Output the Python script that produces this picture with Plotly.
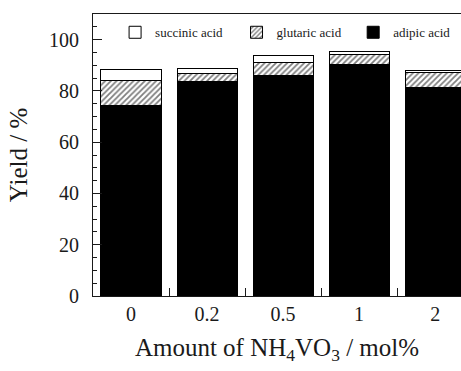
import plotly.graph_objects as go

# Catalyst loading (mol%) and product yields (%)
amounts = ["0", "0.2", "0.5", "1", "2"]
adipic = [74.4, 83.7, 86.0, 90.3, 81.3]
glutaric = [9.7, 2.9, 4.9, 3.8, 5.7]
succinic = [4.2, 2.2, 2.9, 1.2, 1.0]

serif = "Liberation Serif, Times New Roman, serif"
ink = "#1a1a1a"

fig = go.Figure()
fig.add_trace(go.Bar(
    name="adipic acid", x=amounts, y=adipic, legend="legend3",
    marker=dict(color="black", line=dict(color="black", width=1)),
))
fig.add_trace(go.Bar(
    name="glutaric acid", x=amounts, y=glutaric, legend="legend2",
    marker=dict(color="white", line=dict(color="black", width=1),
                pattern=dict(shape="/", fgcolor="black", bgcolor="white",
                             size=4, solidity=0.45)),
))
fig.add_trace(go.Bar(
    name="succinic acid", x=amounts, y=succinic, legend="legend",
    marker=dict(color="white", line=dict(color="black", width=1)),
))

legend_font = dict(size=13, family=serif, color=ink)


def legend_at(xpos):
    return dict(orientation="h", x=xpos, xanchor="left", y=0.935, yanchor="middle",
                bgcolor="rgba(0,0,0,0)", font=legend_font)


title_font = dict(size=25, family=serif, color=ink)
tick_font = dict(size=20, family=serif, color=ink)

fig.update_layout(
    width=461, height=371,
    margin=dict(l=93, r=0, t=14, b=75),
    barmode="stack", bargap=0.21,
    paper_bgcolor="white", plot_bgcolor="white",
    font=dict(family=serif, color=ink, size=20),
    showlegend=True,
    legend=legend_at(0.06),
    legend2=legend_at(0.39),
    legend3=legend_at(0.707),
    xaxis=dict(
        type="category", range=[-0.5, 4.34],
        showline=True, linecolor=ink, linewidth=1, mirror=True,
        ticks="inside", tickson="boundaries", ticklen=8, tickcolor=ink,
        tickfont=tick_font,
        title=dict(text="Amount of NH<sub>4</sub>VO<sub>3</sub> / mol%",
                   font=title_font, standoff=14),
    ),
    yaxis=dict(
        range=[0, 110], tickvals=[0, 20, 40, 60, 80, 100],
        showline=True, linecolor=ink, linewidth=1, mirror=False,
        ticks="inside", ticklen=9, tickcolor=ink, showgrid=False, zeroline=False,
        minor=dict(dtick=5, ticks="inside", ticklen=4, tickcolor=ink, showgrid=False),
        tickfont=tick_font, ticklabelstandoff=9,
        title=dict(text="Yield / %", font=title_font, standoff=14),
    ),
)

fig.write_html("out.html")
